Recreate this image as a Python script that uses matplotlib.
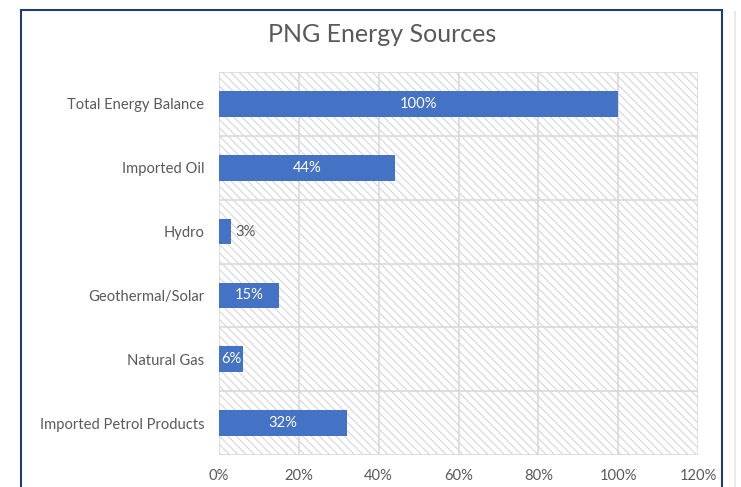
import numpy as np
import matplotlib.pyplot as plt
from matplotlib.patches import Rectangle
from matplotlib.lines import Line2D
from matplotlib.ticker import PercentFormatter

plt.rcParams['font.family'] = ['Lato', 'DejaVu Sans']
plt.rcParams['hatch.color'] = '#d6d6d6'
plt.rcParams['hatch.linewidth'] = 0.8

# Data (top to bottom as in the chart)
categories = ['Total Energy Balance', 'Imported Oil', 'Hydro',
              'Geothermal/Solar', 'Natural Gas', 'Imported Petrol Products']
shares = [100, 44, 3, 15, 6, 32]
x_ticks = [0, 20, 40, 60, 80, 100, 120]

bar_color = '#4472C4'
text_gray = '#595959'
grid_gray = '#d9d9d9'

fig = plt.figure(figsize=(7.41, 4.87), dpi=100)
ax = fig.add_axes([219 / 741, 1 - 455 / 487, (698 - 219) / 741, (455 - 72) / 487])

# outer chart border and the faint line at the right
fig.patches.append(Rectangle((21 / 741, -0.05), (722 - 21) / 741, 1.05 - 10 / 487,
                             transform=fig.transFigure, fill=False,
                             edgecolor='#1f3f6b', linewidth=1.5))
fig.lines.append(Line2D([735 / 741, 735 / 741], [0, 1 - 12 / 487],
                        transform=fig.transFigure, color='#e6e6e6', linewidth=1.2))

n = len(categories)
y = np.arange(n)

# hatched plot background
ax.patch.set_visible(False)
ax.add_patch(Rectangle((0, -0.5), 120, n, facecolor='white', edgecolor='#d6d6d6',
                       hatch='\\\\\\\\', linewidth=0, zorder=0))

bars = ax.barh(y, shares, height=0.4, color=bar_color, zorder=3)

ax.set_xlim(0, 120)
ax.set_ylim(n - 0.5, -0.5)
ax.set_xticks(x_ticks)
ax.xaxis.set_major_formatter(PercentFormatter(decimals=0))
ax.set_yticks(y)
ax.set_yticklabels(categories)

# grid: vertical at ticks, horizontal at category boundaries
for xv in x_ticks:
    ax.axvline(xv, color=grid_gray, linewidth=1.2, zorder=1)
for yb in np.arange(-0.5, n, 1.0):
    ax.axhline(yb, color=grid_gray, linewidth=1.2, zorder=1)

for s in ax.spines.values():
    s.set_visible(False)
ax.tick_params(axis='both', length=0, colors=text_gray, labelsize=10.6)
ax.tick_params(axis='y', pad=10.5)
ax.tick_params(axis='x', pad=10)

# value labels
for yi, v in zip(y, shares):
    if v < 5:
        ax.text(v + 1, yi, f'{v}%', va='center', ha='left', color=text_gray,
                fontsize=10.6, zorder=4)
    else:
        ax.text(v / 2, yi, f'{v}%', va='center', ha='center', color='white',
                fontsize=10.6, zorder=4)

fig.text(382 / 741, 1 - 34 / 487, 'PNG Energy Sources', ha='center', va='center',
         fontsize=18, color=text_gray)

fig.savefig('out.png', dpi=100)
